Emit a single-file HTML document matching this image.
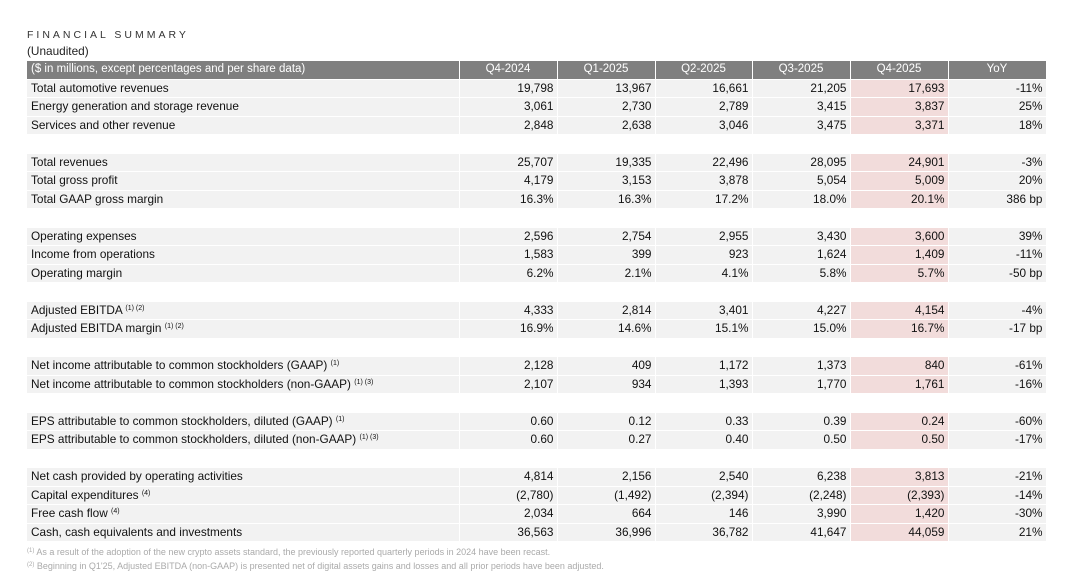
<!DOCTYPE html>
<html><head><meta charset="utf-8"><style>
body{margin:0;width:1080px;height:573px;background:#fff;font-family:"Liberation Sans",Arial,sans-serif;position:relative;overflow:hidden;color:#111}
.t1{position:absolute;left:27px;top:29px;font-size:10.5px;letter-spacing:3px;color:#333}
.t2{position:absolute;left:27px;top:44px;font-size:11.8px;color:#222}
table{position:absolute;left:27px;top:61px;border-collapse:collapse;table-layout:fixed;width:1019px;font-size:11.8px}
td{height:18.5px;padding:0 3px;box-sizing:border-box;background:#f2f2f2;border-bottom:1px solid #fff;border-right:1.5px solid #fff;text-align:right;white-space:nowrap;line-height:17px}
td:first-child{text-align:left;padding-left:4px}
td:nth-child(6){background:#f2dcdb}
tr.h td{background:#7f7f7f;color:#fff;text-align:center;height:18px;font-size:11.5px}
tr.h td:first-child{text-align:left}
tr.b td{background:#fff}
sup{font-size:7px;vertical-align:4px;line-height:0}
.f{position:absolute;left:27px;font-size:9px;color:#aaa}
.f sup{font-size:6px;vertical-align:3px}
</style></head><body>
<div class="t1">FINANCIAL SUMMARY</div>
<div class="t2">(Unaudited)</div>
<table>
<colgroup><col style="width:432px"><col style="width:98px"><col style="width:98px"><col style="width:97px"><col style="width:98px"><col style="width:98px"><col style="width:98px"></colgroup>
<tr class="h"><td>($ in millions, except percentages and per share data)</td><td>Q4-2024</td><td>Q1-2025</td><td>Q2-2025</td><td>Q3-2025</td><td>Q4-2025</td><td>YoY</td></tr>
<tr><td>Total automotive revenues</td><td>19,798</td><td>13,967</td><td>16,661</td><td>21,205</td><td>17,693</td><td>-11%</td></tr>
<tr><td>Energy generation and storage revenue</td><td>3,061</td><td>2,730</td><td>2,789</td><td>3,415</td><td>3,837</td><td>25%</td></tr>
<tr><td>Services and other revenue</td><td>2,848</td><td>2,638</td><td>3,046</td><td>3,475</td><td>3,371</td><td>18%</td></tr>
<tr class="b"><td></td><td></td><td></td><td></td><td></td><td></td><td></td></tr>
<tr><td>Total revenues</td><td>25,707</td><td>19,335</td><td>22,496</td><td>28,095</td><td>24,901</td><td>-3%</td></tr>
<tr><td>Total gross profit</td><td>4,179</td><td>3,153</td><td>3,878</td><td>5,054</td><td>5,009</td><td>20%</td></tr>
<tr><td>Total GAAP gross margin</td><td>16.3%</td><td>16.3%</td><td>17.2%</td><td>18.0%</td><td>20.1%</td><td>386 bp</td></tr>
<tr class="b"><td></td><td></td><td></td><td></td><td></td><td></td><td></td></tr>
<tr><td>Operating expenses</td><td>2,596</td><td>2,754</td><td>2,955</td><td>3,430</td><td>3,600</td><td>39%</td></tr>
<tr><td>Income from operations</td><td>1,583</td><td>399</td><td>923</td><td>1,624</td><td>1,409</td><td>-11%</td></tr>
<tr><td>Operating margin</td><td>6.2%</td><td>2.1%</td><td>4.1%</td><td>5.8%</td><td>5.7%</td><td>-50 bp</td></tr>
<tr class="b"><td></td><td></td><td></td><td></td><td></td><td></td><td></td></tr>
<tr><td>Adjusted EBITDA <sup>(1) (2)</sup></td><td>4,333</td><td>2,814</td><td>3,401</td><td>4,227</td><td>4,154</td><td>-4%</td></tr>
<tr><td>Adjusted EBITDA margin <sup>(1) (2)</sup></td><td>16.9%</td><td>14.6%</td><td>15.1%</td><td>15.0%</td><td>16.7%</td><td>-17 bp</td></tr>
<tr class="b"><td></td><td></td><td></td><td></td><td></td><td></td><td></td></tr>
<tr><td>Net income attributable to common stockholders (GAAP) <sup>(1)</sup></td><td>2,128</td><td>409</td><td>1,172</td><td>1,373</td><td>840</td><td>-61%</td></tr>
<tr><td>Net income attributable to common stockholders (non-GAAP) <sup>(1) (3)</sup></td><td>2,107</td><td>934</td><td>1,393</td><td>1,770</td><td>1,761</td><td>-16%</td></tr>
<tr class="b"><td></td><td></td><td></td><td></td><td></td><td></td><td></td></tr>
<tr><td>EPS attributable to common stockholders, diluted (GAAP) <sup>(1)</sup></td><td>0.60</td><td>0.12</td><td>0.33</td><td>0.39</td><td>0.24</td><td>-60%</td></tr>
<tr><td>EPS attributable to common stockholders, diluted (non-GAAP) <sup>(1) (3)</sup></td><td>0.60</td><td>0.27</td><td>0.40</td><td>0.50</td><td>0.50</td><td>-17%</td></tr>
<tr class="b"><td></td><td></td><td></td><td></td><td></td><td></td><td></td></tr>
<tr><td>Net cash provided by operating activities</td><td>4,814</td><td>2,156</td><td>2,540</td><td>6,238</td><td>3,813</td><td>-21%</td></tr>
<tr><td>Capital expenditures <sup>(4)</sup></td><td>(2,780)</td><td>(1,492)</td><td>(2,394)</td><td>(2,248)</td><td>(2,393)</td><td>-14%</td></tr>
<tr><td>Free cash flow <sup>(4)</sup></td><td>2,034</td><td>664</td><td>146</td><td>3,990</td><td>1,420</td><td>-30%</td></tr>
<tr><td>Cash, cash equivalents and investments</td><td>36,563</td><td>36,996</td><td>36,782</td><td>41,647</td><td>44,059</td><td>21%</td></tr>
</table>
<div class="f" style="top:547px"><sup>(1)</sup> As a result of the adoption of the new crypto assets standard, the previously reported quarterly periods in 2024 have been recast.</div>
<div class="f" style="top:561px"><sup>(2)</sup> Beginning in Q1'25, Adjusted EBITDA (non-GAAP) is presented net of digital assets gains and losses and all prior periods have been adjusted.</div>
</body></html>
